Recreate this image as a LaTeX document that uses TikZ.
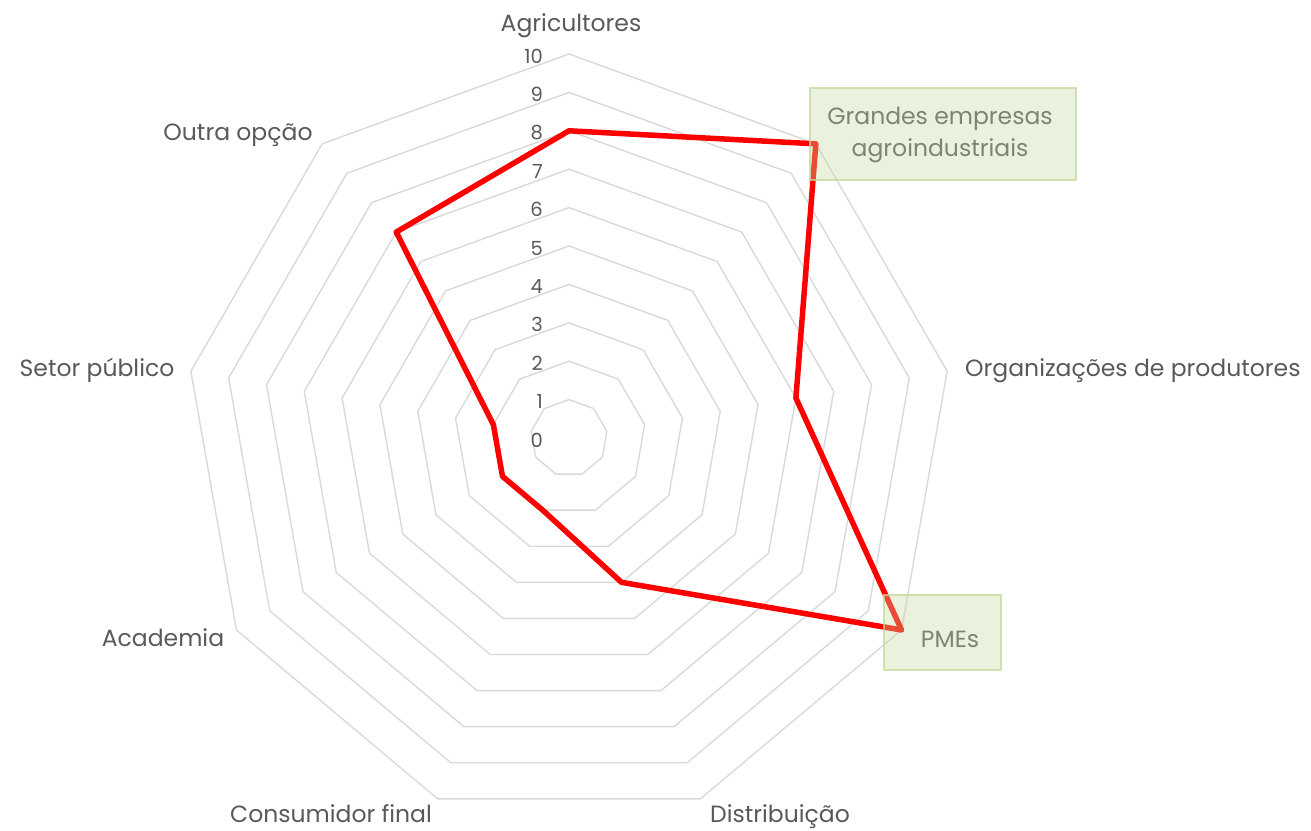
\documentclass[tikz,border=0pt]{standalone}
\usepackage{fontspec}
\setmainfont{Poppins}
\usetikzlibrary{positioning}
\definecolor{gridgray}{HTML}{D9D9D9}
\definecolor{labelgray}{HTML}{595959}
\definecolor{olivebox}{HTML}{C4D79B}
\tikzset{>=stealth}
\tikzset{
  axislabel/.style={text=labelgray, font=\fontsize{23.5}{32}\selectfont, inner sep=0pt, align=center, anchor=base},
  ticklabel/.style={text=labelgray, font=\fontsize{19.5}{20}\selectfont, inner sep=0pt, anchor=east},
  highlight/.style={fill=olivebox, fill opacity=0.35, draw=olivebox, draw opacity=0.75, line width=2.5pt},
}

\begin{document}
\begin{tikzpicture}[x=1pt, y=1pt]
    \useasboundingbox (0,0) rectangle (1311,830);
    \begin{scope}[shift={(569,392)}]
        \foreach \r in {1,...,10}
            \draw[gridgray, line width=1.4pt] (90:{38.4*\r})
                \foreach \k in {1,...,8} { -- ({90-40*\k}:{38.4*\r}) } -- cycle;
        \foreach \r in {0,...,10}
            \node[ticklabel] (tick\r) at (-26,{38.4*\r-2}) {\r};
        \foreach \v [count=\k from 0] in {8,10,6,10,4,2,2,2,7}
            \coordinate (pt\k) at ({90-40*\k}:{38.4*\v});
        \draw[red, line width=5.5pt, line join=round]
            (pt0) -- (pt1) -- (pt2) -- (pt3) -- (pt4) -- (pt5) -- (pt6) -- (pt7) -- (pt8) -- cycle;
    \end{scope}
    \node[axislabel] (agri) at (571,798) {Agricultores};
    \node[axislabel] (grandes) at (940,673) {Grandes empresas\\agroindustriais};
    \node[axislabel, anchor=base west] (org) at (965,453) {Organizações de produtores};
    \node[axislabel] (pmes) at (950,182) {PMEs};
    \node[axislabel] (distr) at (780,8) {Distribuição};
    \node[axislabel] (consum) at (331,8) {Consumidor final};
    \node[axislabel] (acad) at (163,183) {Academia};
    \node[axislabel] (setor) at (97,453) {Setor público};
    \node[axislabel] (outra) at (238,689) {Outra opção};
    \draw[highlight] (810,650) rectangle (1076,742);
    \draw[highlight] (884,160) rectangle (1001,235);
\end{tikzpicture}
\end{document}
